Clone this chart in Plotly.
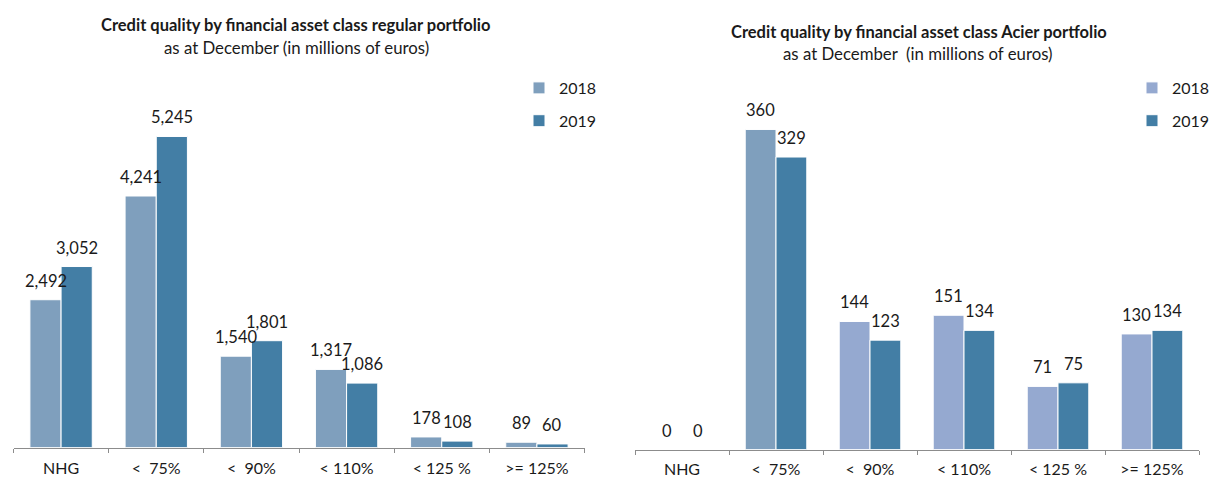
import plotly.graph_objects as go

categories = ["NHG", "<  75%", "<  90%", "< 110%", "< 125 %", ">= 125%"]
years = ["2018", "2019"]
regular_2018 = [2492, 4241, 1540, 1317, 178, 89]
regular_2019 = [3052, 5245, 1801, 1086, 108, 60]
acier_2018 = [0, 360, 144, 151, 71, 130]
acier_2019 = [0, 329, 123, 134, 75, 134]

C18 = "#7f9fbd"
C18B = "#95a9d0"
C19 = "#437ea5"
acier_2018_colors = [C18B, C18, C18B, C18B, C18B, C18B]

W, H = 1210, 477
FONT = "Lato"
TXT = "#1a1a1a"


def fx(px):
    return px / W


def fy(py):
    return 1 - py / H


fig = go.Figure()


def add_bars(vals, color, name, xa, ya, legend, group):
    fig.add_trace(go.Bar(
        x=categories, y=vals, name=name, xaxis=xa, yaxis=ya,
        marker=dict(color=color, line=dict(color="white", width=1)),
        legend=legend, legendgroup=group, hoverinfo="skip",
    ))


add_bars(regular_2018, C18, years[0], "x", "y", "legend", "a")
add_bars(regular_2019, C19, years[1], "x", "y", "legend", "b")
add_bars(acier_2018, acier_2018_colors, years[0], "x2", "y2", "legend2", "c")
add_bars(acier_2019, C19, years[1], "x2", "y2", "legend2", "d")

annotations = []
for xr, yr, s18, s19 in [("x", "y", regular_2018, regular_2019),
                         ("x2", "y2", acier_2018, acier_2019)]:
    for series, shift in ((s18, -15.5), (s19, 15.5)):
        for cat, v in zip(categories, series):
            annotations.append(dict(x=cat, y=v, xref=xr, yref=yr, text=f"{v:,}",
                                    showarrow=False, xshift=shift, yshift=19,
                                    yanchor="middle",
                                    font=dict(family=FONT, size=16.5, color=TXT)))

titles = [
    (295, 25, "<b>Credit quality by financial asset class regular portfolio</b>", 16.5),
    (296, 47, "as at December (in millions of euros)", 16.8),
    (919, 32, "<b>Credit quality by financial asset class Acier portfolio</b>", 16.5),
    (918, 54, "as at December  (in millions of euros)", 16.8),
]
for px, py, t, sz in titles:
    annotations.append(dict(x=fx(px), y=fy(py), xref="paper", yref="paper",
                            text=t, showarrow=False, xanchor="center",
                            yanchor="middle",
                            font=dict(family=FONT, size=sz, color=TXT)))

xaxis_common = dict(
    type="category", showgrid=False, zeroline=False, showline=True,
    linecolor="#8c8c8c", linewidth=1, ticks="outside", tickson="boundaries",
    ticklen=4, tickcolor="#8c8c8c", automargin=False,
    tickfont=dict(family=FONT, size=16, color=TXT), fixedrange=True,
)
yaxis_common = dict(visible=False, showgrid=False, zeroline=False,
                    fixedrange=True, automargin=False)

fig.update_layout(
    width=W, height=H,
    margin=dict(l=0, r=0, t=0, b=0, autoexpand=False),
    paper_bgcolor="white", plot_bgcolor="white",
    barmode="group", bargap=0.345, bargroupgap=0,
    font=dict(family=FONT, size=16, color=TXT),
    xaxis=dict(domain=[fx(13.5), fx(584.5)], anchor="y",
               ticklabelstandoff=6, **xaxis_common),
    yaxis=dict(domain=[fy(447.5), fy(91.7)], range=[0, 6000],
               anchor="x", **yaxis_common),
    xaxis2=dict(domain=[fx(635), fx(1199)], anchor="y2",
                ticklabelstandoff=5, **xaxis_common),
    yaxis2=dict(domain=[fy(449.5), fy(93.9)], range=[0, 400],
                anchor="x2", **yaxis_common),
    legend=dict(x=fx(519), y=fy(71), xanchor="left", yanchor="top",
                tracegroupgap=9, itemwidth=30, bgcolor="rgba(0,0,0,0)",
                font=dict(family=FONT, size=16, color=TXT)),
    legend2=dict(x=fx(1132), y=fy(71), xanchor="left", yanchor="top",
                 tracegroupgap=9, itemwidth=30, bgcolor="rgba(0,0,0,0)",
                 font=dict(family=FONT, size=16, color=TXT)),
    annotations=annotations,
    showlegend=True,
)

fig.write_html(
    "out.html",
    config={"displayModeBar": False},
    post_script="document.body.style.margin='0';document.body.style.overflow='hidden';",
)
